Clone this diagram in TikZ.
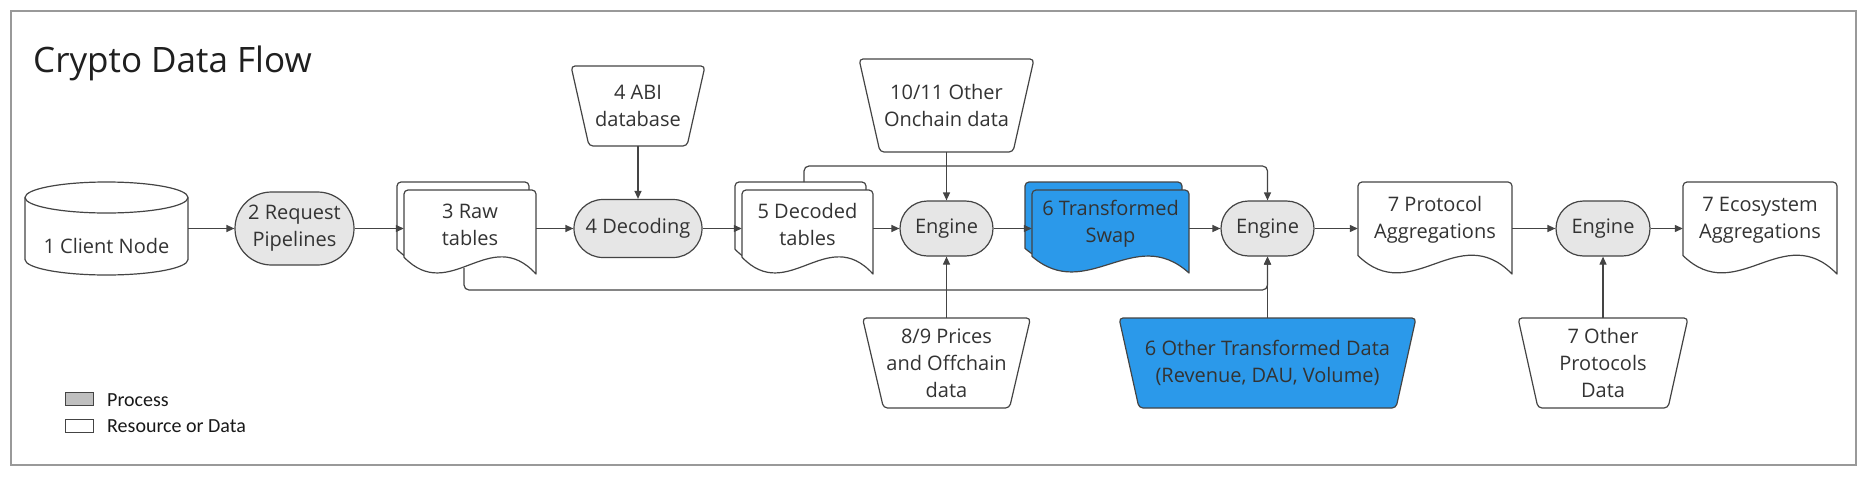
\documentclass[tikz,border=0pt]{standalone}
\usepackage{fontspec}
\setmainfont{Open Sans}
\newfontfamily\legfont{Carlito}
\usetikzlibrary{arrows.meta,shapes.misc}
\definecolor{ln}{HTML}{444444}
\definecolor{txtc}{HTML}{333333}
\definecolor{procfill}{HTML}{E6E6E6}
\definecolor{bluefill}{HTML}{2B99EA}
\definecolor{framec}{HTML}{999999}
\definecolor{legfill}{HTML}{BFBFBF}
% document shape: #1 L, #2 T, #3 R, #4 H, #5 style
\newcommand\docshape[5]{%
  \draw[#5] (#1,{#2+0.8*#4}) -- (#1,{#2+4}) arc[start angle=180,end angle=270,radius=4]
    -- ({#3-4},#2) arc[start angle=270,end angle=360,radius=4]
    -- (#3,{#2+#4}) .. controls ({#1+0.65*(#3-#1)},{#2+0.4*#4}) and ({#1+0.35*(#3-#1)},{#2+1.37*#4}) .. (#1,{#2+0.8*#4}) -- cycle;
}
\begin{document}
\begin{tikzpicture}[x=1pt,y=-1pt,
  shapeln/.style={draw=ln, line width=1.2pt, line join=round},
  wfill/.style={shapeln, fill=white},
  bfill/.style={shapeln, fill=bluefill},
  txt/.style={inner sep=0pt, text=txtc, font=\fontsize{20}{27}\selectfont, align=center},
  proc/.style={txt, rounded rectangle, draw=ln, line width=1.2pt, fill=procfill},
  arr/.style={draw=ln, line width=1.2pt, -{Triangle[length=8pt,width=7pt]}},
  legbox/.style={draw=ln, line width=1pt, minimum width=28pt, minimum height=13pt, inner sep=0pt},
  legtxt/.style={anchor=base west, inner sep=0pt, text=black!90, font=\legfont\fontsize{20}{24}\selectfont},
]
\useasboundingbox (0,0) rectangle (1867,477);
\fill[white] (0,0) rectangle (1867,477);
\draw[framec, line width=2pt] (11,11) rectangle (1856,465);

\node[anchor=base west, inner sep=0pt, text=black!88, font=\fontsize{35}{42}\selectfont] (title) at (33,72) {Crypto Data Flow};

% cylinder
\draw[wfill] (25,197.5) -- (25,259.5) arc[start angle=180,end angle=0,x radius=81.5,y radius=15.5]
  -- (188,197.5) arc[start angle=0,end angle=-180,x radius=81.5,y radius=15.5] -- cycle;
\draw[shapeln] (25,197.5) arc[start angle=180,end angle=0,x radius=81.5,y radius=15.5];
\node[txt, minimum width=163pt, minimum height=40pt] (client) at (106.5,246) {1 Client Node};

% process nodes
\node[proc, minimum width=119pt, minimum height=73pt] (req) at (294.5,228.5) {2 Request\\Pipelines};
\node[proc, minimum width=128pt, minimum height=58pt] (decode) at (638,228.5) {4 Decoding};
\node[proc, minimum width=93pt, minimum height=55pt] (eng1) at (946.5,228.5) {Engine};
\node[proc, minimum width=93pt, minimum height=55pt] (eng2) at (1267.5,228.5) {Engine};
\node[proc, minimum width=94pt, minimum height=55pt] (eng3) at (1603,228.5) {Engine};

% documents
\docshape{397}{182}{529}{84}{wfill}
\docshape{404}{190}{536}{84}{wfill}
\node[txt, minimum width=132pt, minimum height=50pt] (raw) at (470,224.5) {3 Raw\\tables};

\docshape{735}{182}{866}{84}{wfill}
\docshape{742}{190}{873}{84}{wfill}
\node[txt, minimum width=131pt, minimum height=50pt] (dec) at (807.5,224.5) {5 Decoded\\tables};

\docshape{1025}{182}{1182}{83}{bfill}
\docshape{1032}{190}{1189}{83}{bfill}
\node[txt, minimum width=157pt, minimum height=50pt] (swap) at (1110.5,224) {6 Transformed\\Swap};

\docshape{1358}{182}{1512}{92}{wfill}
\node[txt, minimum width=154pt, minimum height=50pt] (proto) at (1435,220) {7 Protocol\\Aggregations};

\docshape{1683}{182}{1837}{92}{wfill}
\node[txt, minimum width=154pt, minimum height=50pt] (eco) at (1760,220) {7 Ecosystem\\Aggregations};

% trapezoids
\draw[wfill, rounded corners=4pt] (571,66) -- (705,66) -- (687,146) -- (589,146) -- cycle;
\node[txt, minimum width=98pt, minimum height=80pt] (abi) at (638,106) {4 ABI\\database};

\draw[wfill, rounded corners=4pt] (859,59) -- (1034,59) -- (1013,152) -- (880,152) -- cycle;
\node[txt, minimum width=133pt, minimum height=93pt] (onchain) at (946.5,105.5) {10/11 Other\\Onchain data};

\draw[wfill, rounded corners=4pt] (862.5,318) -- (1030.5,318) -- (1009.5,408) -- (883.5,408) -- cycle;
\node[txt, minimum width=126pt, minimum height=90pt] (prices) at (946.5,363) {8/9 Prices\\and Offchain\\data};

\draw[bfill, rounded corners=4pt] (1119,318) -- (1416,318) -- (1396,408) -- (1139,408) -- cycle;
\node[txt, minimum width=257pt, minimum height=90pt] (other) at (1267.5,363) {6 Other Transformed Data\\(Revenue, DAU, Volume)};

\draw[wfill, rounded corners=4pt] (1518,318) -- (1688,318) -- (1668,408) -- (1538,408) -- cycle;
\node[txt, minimum width=130pt, minimum height=90pt] (otherproto) at (1603,363) {7 Other\\Protocols\\Data};

% connectors
\draw[arr] (client.east |- req.west) -- (req.west);
\draw[arr] (req.east) -- (req.east -| raw.west);
\draw[arr] (raw.east |- decode.west) -- (decode.west);
\draw[arr] (abi.south) -- (decode.north);
\draw[arr] (decode.east) -- (decode.east -| dec.west);
\draw[arr] (dec.east |- eng1.west) -- (eng1.west);
\draw[arr] (onchain.south) -- (eng1.north);
\draw[arr] (prices.north) -- (eng1.south);
\draw[arr] (eng1.east) -- (eng1.east -| swap.west);
\draw[arr] (swap.east |- eng2.west) -- (eng2.west);
\draw[arr] (other.north) -- (eng2.south);
\draw[arr] (eng2.east) -- (eng2.east -| proto.west);
\draw[arr] (proto.east |- eng3.west) -- (eng3.west);
\draw[arr] (otherproto.north) -- (eng3.south);
\draw[arr] (eng3.east) -- (eng3.east -| eco.west);
\coordinate (decTop) at (804,182);
\coordinate (rawBot) at (464,268);
\draw[arr, rounded corners=5pt] (decTop) -- (804,166) -| (eng2.north);
\draw[arr, rounded corners=5pt] (rawBot) -- (464,290) -| (eng2.south);

% legend
\node[legbox, fill=legfill] (legp) at (79,398.5) {};
\node[legtxt] (legpt) at (107,406) {Process};
\node[legbox, fill=white] (legr) at (79,425.5) {};
\node[legtxt] (legrt) at (107,432) {Resource or Data};
\end{tikzpicture}
\end{document}
